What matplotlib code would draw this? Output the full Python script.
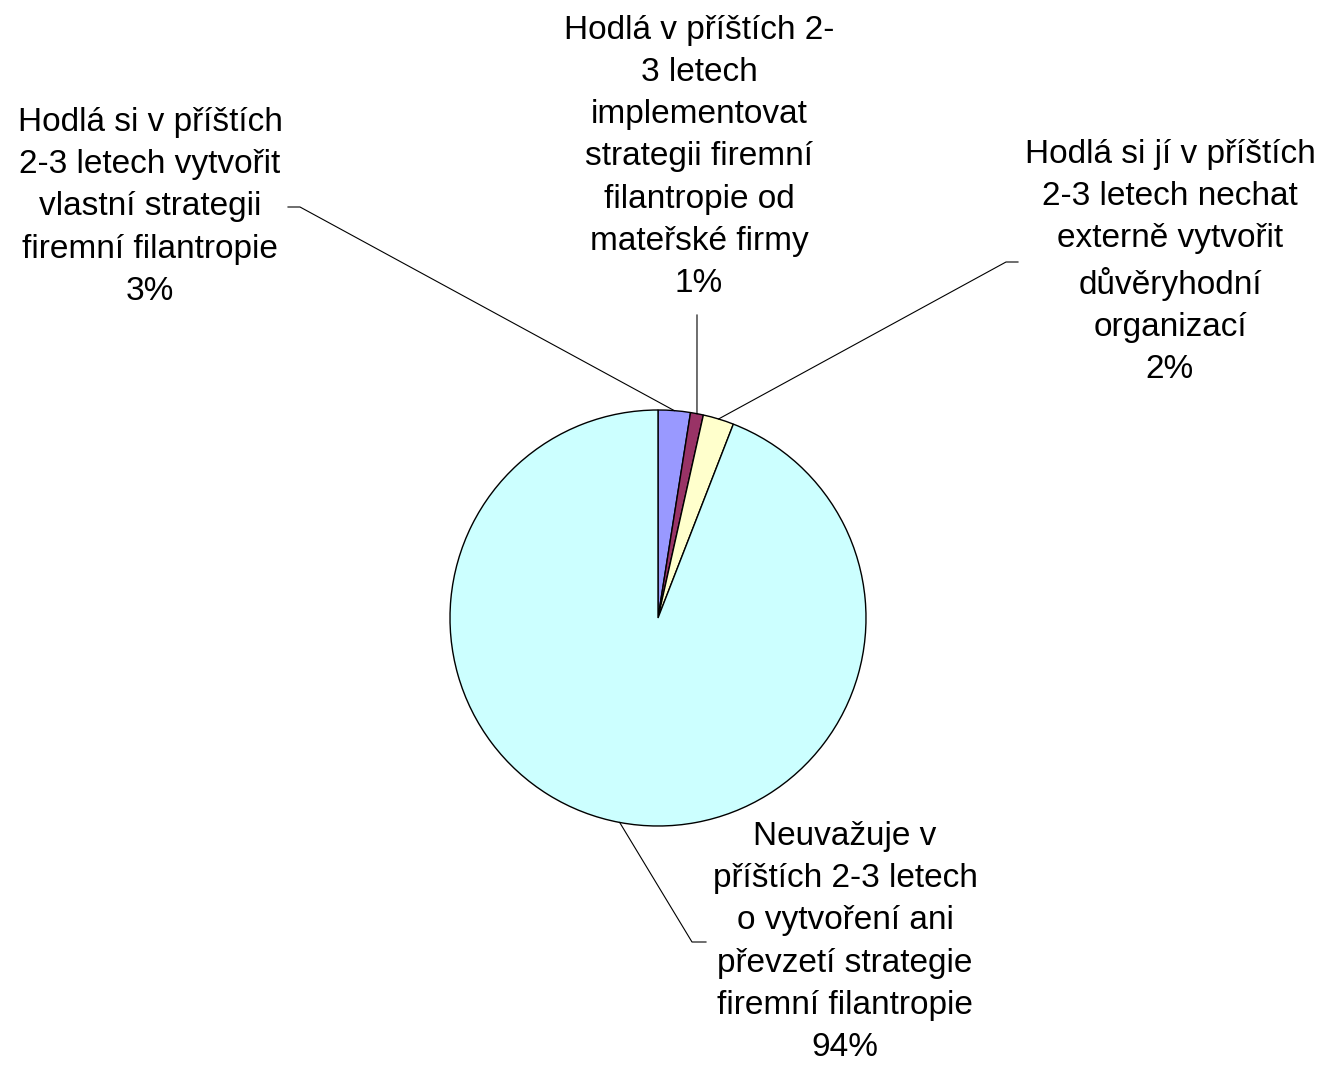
import numpy as np
import matplotlib.pyplot as plt

plt.rcParams['font.family'] = ['Liberation Sans', 'DejaVu Sans']

labels = [
    "Hodlá si v příštích\n2-3 letech vytvořit\nvlastní strategii\nfiremní filantropie\n3%",
    "Hodlá v příštích 2-\n3 letech\nimplementovat\nstrategii firemní\nfilantropie od\nmateřské firmy\n1%",
    "Hodlá si jí v příštích\n2-3 letech nechat\nexterně vytvořit\ndůvěryhodní\norganizací\n2%",
    "Neuvažuje v\npříštích 2-3 letech\no vytvoření ani\npřevzetí strategie\nfiremní filantropie\n94%",
]
shares = [2.5, 1.0, 2.4, 94.1]
colors = ["#9999FF", "#993366", "#FFFFCC", "#CCFFFF"]

# pixel layout helpers (pie centre at 658,618 with radius 208 px)
CX, CY, R = 658, 618, 208


def px(x, y):
    return ((x - CX) / R, (CY - y) / R)


fig = plt.figure(figsize=(13.23, 10.66), dpi=100)
ax = fig.add_axes([0, 0, 1, 1])

wedges, _ = ax.pie(shares, colors=colors, startangle=90, counterclock=False,
                   wedgeprops=dict(edgecolor="black", linewidth=1.0))

ax.set_aspect("auto")
ax.set_xlim(-CX / R, (1323 - CX) / R)
ax.set_ylim(-(1066 - CY) / R, CY / R)
ax.axis("off")

# label centre, knee of leader line, end of leader line (pixels)
label_pos = [(150, 207), (699, 157), (1170, 262), (845, 942)]
knees = [(300, 207), (697, 315), (1006, 262), (692, 942)]
ends = [(288, 207), (697, 315), (1018, 262), (706, 942)]

for w, lab, lp, kn, en in zip(wedges, labels, label_pos, knees, ends):
    mid = np.deg2rad((w.theta1 + w.theta2) / 2)
    rim = (np.cos(mid), np.sin(mid))
    k = px(*kn)
    e = px(*en)
    ax.plot([rim[0], k[0], e[0]], [rim[1], k[1], e[1]], color="black", lw=0.8)
    tx, ty = px(*lp)
    ax.text(tx, ty, lab, ha="center", va="center", fontsize=24,
            linespacing=1.47, multialignment="center")

fig.savefig("out.png", dpi=100)
